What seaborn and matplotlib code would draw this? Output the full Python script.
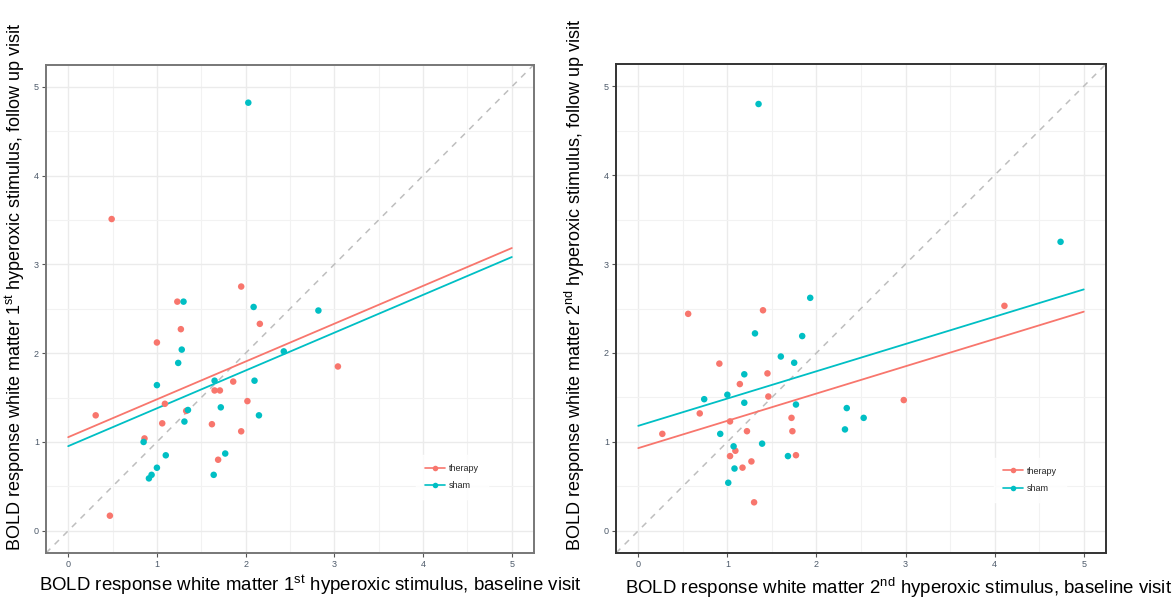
import numpy as np
import pandas as pd
import matplotlib
matplotlib.use("Agg")
import matplotlib.pyplot as plt
import seaborn as sns
from matplotlib.lines import Line2D
from matplotlib.ticker import MultipleLocator

# ---------------- data ----------------
groups = ["therapy", "sham"]
palette = {"therapy": "#F8766D", "sham": "#00BFC4"}

# panel 1: 1st hyperoxic stimulus
s1_therapy_base = [0.49, 0.31, 1.95, 1.23, 1.27, 1.00, 2.16, 3.04, 1.86, 1.65,
                   1.71, 1.09, 2.02, 1.33, 1.06, 1.62, 1.95, 0.86, 1.69, 0.47]
s1_therapy_follow = [3.51, 1.30, 2.75, 2.58, 2.27, 2.12, 2.33, 1.85, 1.68, 1.58,
                     1.58, 1.43, 1.46, 1.35, 1.21, 1.20, 1.12, 1.04, 0.80, 0.17]
s1_sham_base = [1.30, 2.09, 2.82, 2.43, 1.28, 1.24, 1.00, 1.65, 2.10, 1.72,
                1.35, 2.15, 1.31, 0.85, 1.10, 1.77, 1.00, 0.94, 0.91, 1.64, 2.03]
s1_sham_follow = [2.58, 2.52, 2.48, 2.02, 2.04, 1.89, 1.64, 1.69, 1.69, 1.39,
                  1.36, 1.30, 1.23, 1.00, 0.85, 0.87, 0.71, 0.63, 0.59, 0.63, 4.82]

# panel 2: 2nd hyperoxic stimulus
s2_therapy_base = [0.56, 1.40, 0.91, 1.45, 1.14, 1.46, 0.69, 1.72, 1.03, 0.27,
                   1.22, 1.73, 1.09, 1.03, 1.77, 1.27, 1.17, 1.30, 4.11, 2.98]
s2_therapy_follow = [2.44, 2.48, 1.88, 1.77, 1.65, 1.51, 1.32, 1.27, 1.23, 1.09,
                     1.12, 1.12, 0.90, 0.84, 0.85, 0.78, 0.71, 0.32, 2.53, 1.47]
s2_sham_base = [1.93, 1.31, 1.84, 1.60, 1.75, 1.19, 1.00, 0.74, 1.19, 1.77,
                0.92, 1.39, 1.07, 1.68, 1.08, 1.01, 2.34, 2.53, 2.32, 4.74, 1.35]
s2_sham_follow = [2.62, 2.22, 2.19, 1.96, 1.89, 1.76, 1.53, 1.48, 1.44, 1.42,
                  1.09, 0.98, 0.95, 0.84, 0.70, 0.54, 1.38, 1.27, 1.14, 3.25, 4.80]

ticks = [0, 1, 2, 3, 4, 5]

xlabels = [r"BOLD response white matter 1$^{\mathregular{st}}$ hyperoxic stimulus, baseline visit",
           r"BOLD response white matter 2$^{\mathregular{nd}}$ hyperoxic stimulus, baseline visit"]
ylabels = [r"BOLD response white matter 1$^{\mathregular{st}}$ hyperoxic stimulus, follow up visit",
           r"BOLD response white matter 2$^{\mathregular{nd}}$ hyperoxic stimulus, follow up visit"]


def make_df(tb, tf, sb, sf):
    return pd.DataFrame({
        "base": list(tb) + list(sb),
        "follow": list(tf) + list(sf),
        "group": ["therapy"] * len(tb) + ["sham"] * len(sb),
    })


def ancova_lines(df, x_range=(0.0, 5.0)):
    """follow ~ base + group : common slope, group-specific intercepts."""
    sxy = sxx = 0.0
    means = {}
    for g in groups:
        sub = df[df["group"] == g]
        xm, ym = sub["base"].mean(), sub["follow"].mean()
        means[g] = (xm, ym)
        sxy += ((sub["base"] - xm) * (sub["follow"] - ym)).sum()
        sxx += ((sub["base"] - xm) ** 2).sum()
    slope = sxy / sxx
    rows = []
    for g in groups:
        xm, ym = means[g]
        b0 = ym - slope * xm
        for xv in x_range:
            rows.append({"base": xv, "follow": b0 + slope * xv, "group": g})
    return pd.DataFrame(rows)


dfs = [make_df(s1_therapy_base, s1_therapy_follow, s1_sham_base, s1_sham_follow),
       make_df(s2_therapy_base, s2_therapy_follow, s2_sham_base, s2_sham_follow)]

# ---------------- style ----------------
sns.set_theme(style="white")
plt.rcParams["font.family"] = ["Liberation Sans", "DejaVu Sans"]
plt.rcParams["mathtext.fontset"] = "custom"
plt.rcParams["mathtext.rm"] = "Liberation Sans"
plt.rcParams["mathtext.default"] = "regular"

fig = plt.figure(figsize=(11.73, 5.98), dpi=100)
W, H = 1173, 598
axes_px = [(46, 64.5, 534, 553), (616, 64, 1106, 553)]
border_colors = ["#777777", "#333333"]
legend_pos = [(0.832, 0.156), (0.845, 0.150)]
xlabel_pos = [(310, 585), (899, 588)]
ylabel_pos = [(15, 551), (575, 551)]

for i, df in enumerate(dfs):
    x0, y0, x1, y1 = axes_px[i]
    ax = fig.add_axes([x0 / W, 1 - y1 / H, (x1 - x0) / W, (y1 - y0) / H])
    ax.set_facecolor("white")
    ax.set_axisbelow(True)
    ax.xaxis.set_major_locator(MultipleLocator(1))
    ax.yaxis.set_major_locator(MultipleLocator(1))
    ax.xaxis.set_minor_locator(MultipleLocator(0.5))
    ax.yaxis.set_minor_locator(MultipleLocator(0.5))
    ax.grid(which="major", color="#EBEBEB", lw=1.0)
    ax.grid(which="minor", color="#F2F2F2", lw=0.8)

    # identity reference line
    ax.axline((0, 0), slope=1, color="#BEBEBE", lw=1.1, ls=(0, (4, 4)), zorder=1)

    # common-slope regression lines across 0..5
    fit = ancova_lines(df)
    sns.lineplot(data=fit, x="base", y="follow", hue="group", hue_order=groups,
                 palette=palette, lw=1.3, ax=ax, legend=False, zorder=2)

    sns.scatterplot(data=df, x="base", y="follow", hue="group", hue_order=groups,
                    palette=palette, s=22, linewidth=0, ax=ax, legend=False, zorder=3)

    ax.set_xlim(-0.25, 5.25)
    ax.set_ylim(-0.25, 5.25)
    ax.set_xticks(ticks)
    ax.set_yticks(ticks)
    ax.set_xticklabels([str(t) for t in ticks])
    ax.set_yticklabels([str(t) for t in ticks])
    ax.set_xlabel("")
    ax.set_ylabel("")
    ax.tick_params(axis="both", which="major", length=3, width=0.8, color="#555555",
                   labelsize=6.5, labelcolor="#4D5A6A", pad=2, bottom=True, left=True)
    ax.tick_params(which="minor", length=0)
    for sp in ax.spines.values():
        sp.set_color(border_colors[i])
        sp.set_linewidth(1.4)

    handles = [Line2D([0], [0], color=palette[g], lw=1.2, marker="o", markersize=4,
                      markeredgewidth=0) for g in groups]
    leg = ax.legend(handles, groups, loc="center", bbox_to_anchor=legend_pos[i],
                    fontsize=6.5, frameon=True, handlelength=2.2, handletextpad=0.5,
                    labelspacing=0.9, borderpad=1.0, fancybox=False)
    leg.get_frame().set_facecolor("white")
    leg.get_frame().set_edgecolor("white")

    fig.text(xlabel_pos[i][0] / W, 1 - xlabel_pos[i][1] / H, xlabels[i],
             ha="center", va="center", fontsize=13.4, color="black")
    fig.text(ylabel_pos[i][0] / W, 1 - ylabel_pos[i][1] / H, ylabels[i],
             ha="center", va="bottom", rotation=90, fontsize=13.0, color="black")

fig.savefig("out.png", dpi=100)
